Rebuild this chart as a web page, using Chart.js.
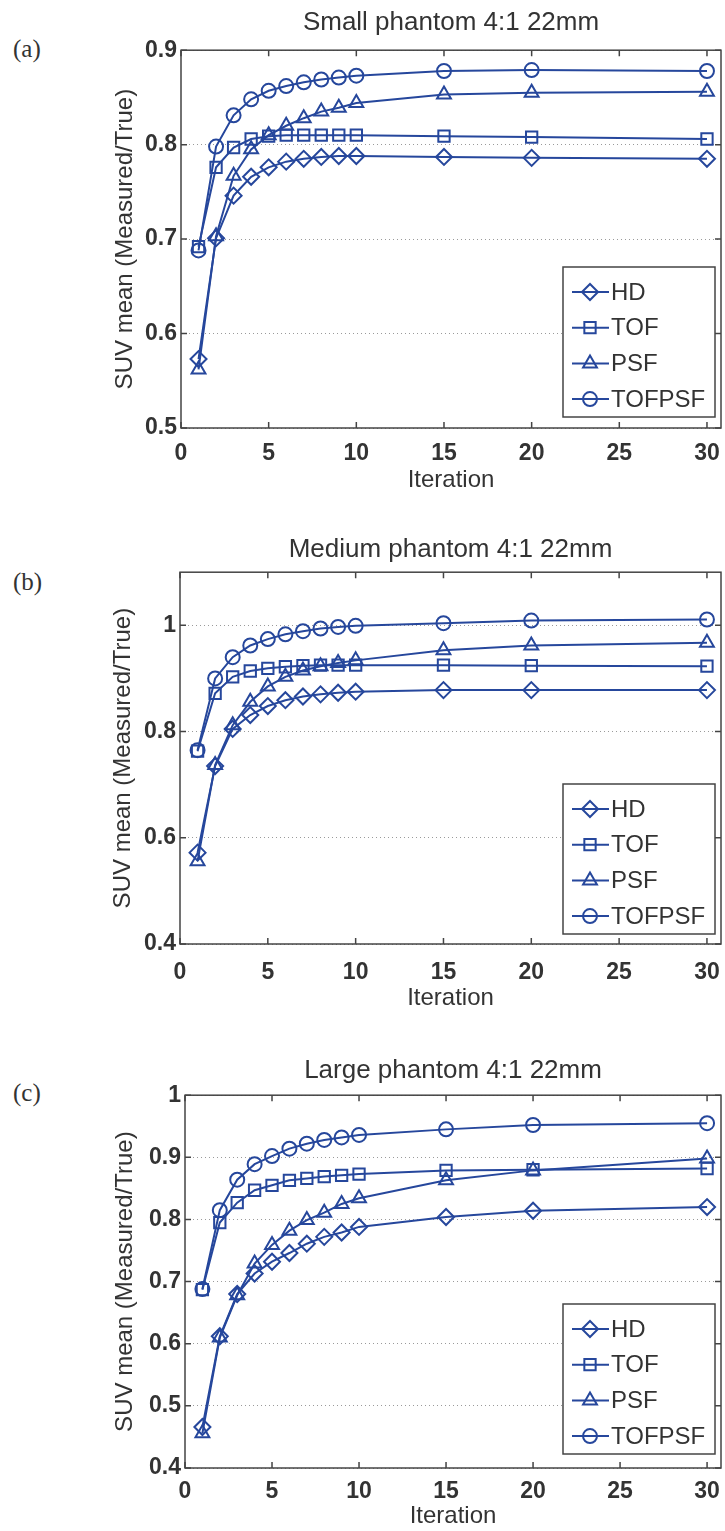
<!DOCTYPE html>
<html>
<head>
<meta charset="utf-8">
<script src="https://cdn.jsdelivr.net/npm/chart.js@4/dist/chart.umd.min.js"></script>
<style>
  body { margin: 0; background: #fff; }
  #wrap { position: relative; width: 725px; height: 1531px; overflow: hidden; }
  canvas { position: absolute; left: 0; }
  .tag { position: absolute; left: 13px; font-family: "Liberation Serif", "DejaVu Serif", serif; font-size: 25px; line-height: 1; color: #333; }
</style>
</head>
<body>
<div id="wrap">
  <div class="tag" style="top:36px">(a)</div>
  <div class="tag" style="top:569px">(b)</div>
  <div class="tag" style="top:1080px">(c)</div>
  <canvas id="chartA" width="725" height="500" style="top:0px"></canvas>
  <canvas id="chartB" width="725" height="500" style="top:520px"></canvas>
  <canvas id="chartC" width="725" height="491" style="top:1040px"></canvas>
</div>
<script>
// iterations on the x axis
const iterations = [1, 2, 3, 4, 5, 6, 7, 8, 9, 10, 15, 20, 30];
const seriesNames = ['HD', 'TOF', 'PSF', 'TOFPSF'];
const markerStyles = ['rectRot', 'rect', 'triangle', 'circle'];

// (a) small phantom
const smallHD     = [0.573, 0.701, 0.746, 0.766, 0.776, 0.782, 0.785, 0.787, 0.788, 0.788, 0.787, 0.786, 0.785];
const smallTOF    = [0.692, 0.776, 0.797, 0.806, 0.809, 0.810, 0.810, 0.810, 0.810, 0.810, 0.809, 0.808, 0.806];
const smallPSF    = [0.562, 0.703, 0.767, 0.795, 0.810, 0.820, 0.828, 0.835, 0.839, 0.844, 0.853, 0.855, 0.856];
const smallTOFPSF = [0.688, 0.798, 0.831, 0.848, 0.857, 0.862, 0.866, 0.869, 0.871, 0.873, 0.878, 0.879, 0.878];

// (b) medium phantom
const mediumHD     = [0.572, 0.735, 0.805, 0.831, 0.848, 0.859, 0.866, 0.870, 0.873, 0.875, 0.878, 0.878, 0.878];
const mediumTOF    = [0.763, 0.872, 0.903, 0.914, 0.919, 0.922, 0.924, 0.925, 0.925, 0.925, 0.925, 0.924, 0.923];
const mediumPSF    = [0.556, 0.737, 0.812, 0.856, 0.885, 0.903, 0.915, 0.923, 0.929, 0.934, 0.953, 0.962, 0.967];
const mediumTOFPSF = [0.765, 0.900, 0.940, 0.962, 0.974, 0.983, 0.989, 0.994, 0.997, 0.999, 1.004, 1.009, 1.011];

// (c) large phantom
const largeHD     = [0.466, 0.612, 0.680, 0.713, 0.732, 0.746, 0.761, 0.772, 0.779, 0.788, 0.804, 0.814, 0.820];
const largeTOF    = [0.687, 0.795, 0.827, 0.847, 0.855, 0.863, 0.866, 0.869, 0.871, 0.873, 0.879, 0.880, 0.882];
const largePSF    = [0.456, 0.610, 0.678, 0.729, 0.759, 0.782, 0.799, 0.811, 0.825, 0.834, 0.863, 0.879, 0.898];
const largeTOFPSF = [0.688, 0.815, 0.864, 0.889, 0.902, 0.914, 0.922, 0.928, 0.932, 0.936, 0.945, 0.952, 0.955];

const lineColor = '#26479c';
const textColor = '#333';
const fontFamily = '"Liberation Sans", Arial, sans-serif';

// matlab style box with inward ticks
const framePlugin = {
  id: 'frame',
  afterDatasetsDraw(chart) {
    const {ctx, chartArea: a, scales} = chart;
    ctx.save();
    ctx.strokeStyle = '#444';
    ctx.lineWidth = 1.5;
    ctx.strokeRect(a.left, a.top, a.right - a.left, a.bottom - a.top);
    ctx.beginPath();
    scales.x.ticks.forEach(t => {
      const px = scales.x.getPixelForValue(t.value);
      ctx.moveTo(px, a.bottom); ctx.lineTo(px, a.bottom - 6);
      ctx.moveTo(px, a.top); ctx.lineTo(px, a.top + 6);
    });
    scales.y.ticks.forEach(t => {
      const py = scales.y.getPixelForValue(t.value);
      ctx.moveTo(a.left, py); ctx.lineTo(a.left + 6, py);
      ctx.moveTo(a.right, py); ctx.lineTo(a.right - 6, py);
    });
    ctx.stroke();
    ctx.restore();
  }
};

// legend box in the lower right corner
const boxLegend = {
  id: 'boxLegend',
  afterDraw(chart, args, opts) {
    const {ctx, chartArea: a} = chart;
    const w = 152, h = 150;
    const right = a.right - 6, bottom = a.bottom - opts.gap;
    const left = right - w, top = bottom - h;
    ctx.save();
    ctx.fillStyle = '#fff';
    ctx.fillRect(left, top, w, h);
    ctx.strokeStyle = '#444';
    ctx.lineWidth = 1.5;
    ctx.strokeRect(left, top, w, h);
    chart.data.datasets.forEach((ds, i) => {
      const y = top + 25 + i * 35.7;
      ctx.strokeStyle = ds.borderColor;
      ctx.lineWidth = 2;
      ctx.beginPath();
      ctx.moveTo(left + 9, y); ctx.lineTo(left + 46, y);
      ctx.stroke();
      ctx.fillStyle = 'rgba(0,0,0,0)';
      Chart.helpers.drawPoint(ctx, {pointStyle: ds.pointStyle, radius: ds.pointRadius, borderWidth: 2, rotation: 0}, left + 27, y);
      ctx.fillStyle = textColor;
      ctx.font = '24px ' + fontFamily;
      ctx.textBaseline = 'middle';
      ctx.fillText(ds.label, left + 48, y + 1);
    });
    ctx.restore();
  }
};

function makePanel(id, title, values, yMin, yMax, yStep, p) {
  const datasets = values.map((vals, i) => ({
    label: seriesNames[i],
    data: iterations.map((it, k) => ({x: it, y: vals[k]})),
    borderColor: lineColor,
    backgroundColor: 'rgba(0,0,0,0)',
    borderWidth: 2,
    pointStyle: markerStyles[i],
    pointRadius: markerStyles[i] === 'circle' ? 7 : 8,
    pointBorderWidth: 2,
    pointBackgroundColor: 'rgba(0,0,0,0)',
    tension: 0
  }));

  new Chart(document.getElementById(id), {
    type: 'line',
    data: { datasets },
    options: {
      responsive: false,
      animation: false,
      layout: { autoPadding: false, padding: { left: 0, right: 4, top: 0, bottom: 0 } },
      plugins: {
        legend: { display: false },
        tooltip: { enabled: false },
        title: {
          display: true,
          fullSize: false,
          text: title,
          color: textColor,
          font: { family: fontFamily, size: 26, weight: 'normal' },
          padding: { top: p.titleTop, bottom: p.titleBottom }
        },
        boxLegend: { gap: p.legendGap }
      },
      scales: {
        x: {
          type: 'linear',
          min: 0,
          max: 30.8,
          ticks: {
            stepSize: 5,
            includeBounds: false,
            padding: p.xTickPad,
            color: textColor,
            font: { family: fontFamily, size: 23, weight: 'bold' }
          },
          grid: { display: false },
          border: { display: false },
          title: {
            display: true,
            text: 'Iteration',
            color: textColor,
            font: { family: fontFamily, size: 24 },
            padding: { top: 0, bottom: p.xTitlePad }
          },
          afterFit(scale) { scale.height = p.xHeight; scale.paddingLeft = 0; scale.paddingRight = 0; }
        },
        y: {
          min: yMin,
          max: yMax,
          ticks: {
            stepSize: yStep,
            includeBounds: false,
            padding: 4,
            color: textColor,
            font: { family: fontFamily, size: 23, weight: 'bold' },
            callback: v => String(Math.round(v * 10) / 10)
          },
          grid: { color: '#9a9a9a', lineWidth: 1, drawTicks: false },
          border: { display: false, dash: [1, 3] },
          title: {
            display: true,
            text: 'SUV mean (Measured/True)',
            color: textColor,
            font: { family: fontFamily, size: 24 },
            padding: { top: p.yTitlePad, bottom: 0 }
          },
          afterFit(scale) { scale.width = p.yWidth; scale.paddingTop = 0; scale.paddingBottom = 0; }
        }
      }
    },
    plugins: [framePlugin, boxLegend]
  });
}

makePanel('chartA', 'Small phantom 4:1 22mm',
  [smallHD, smallTOF, smallPSF, smallTOFPSF], 0.5, 0.9, 0.1,
  { titleTop: 7, titleBottom: 12, xHeight: 72, xTickPad: 4, xTitlePad: 5.6, yWidth: 181, yTitlePad: 110.6, legendGap: 11 });

makePanel('chartB', 'Medium phantom 4:1 22mm',
  [mediumHD, mediumTOF, mediumPSF, mediumTOFPSF], 0.4, 1.1, 0.2,
  { titleTop: 14, titleBottom: 7, xHeight: 76, xTickPad: 7, xTitlePad: 7.6, yWidth: 180, yTitlePad: 108.6, legendGap: 10 });

makePanel('chartC', 'Large phantom 4:1 22mm',
  [largeHD, largeTOF, largePSF, largeTOFPSF], 0.4, 1.0, 0.1,
  { titleTop: 15, titleBottom: 9, xHeight: 63, xTickPad: 2, xTitlePad: 0, yWidth: 185, yTitlePad: 110.6, legendGap: 14 });
</script>
</body>
</html>
